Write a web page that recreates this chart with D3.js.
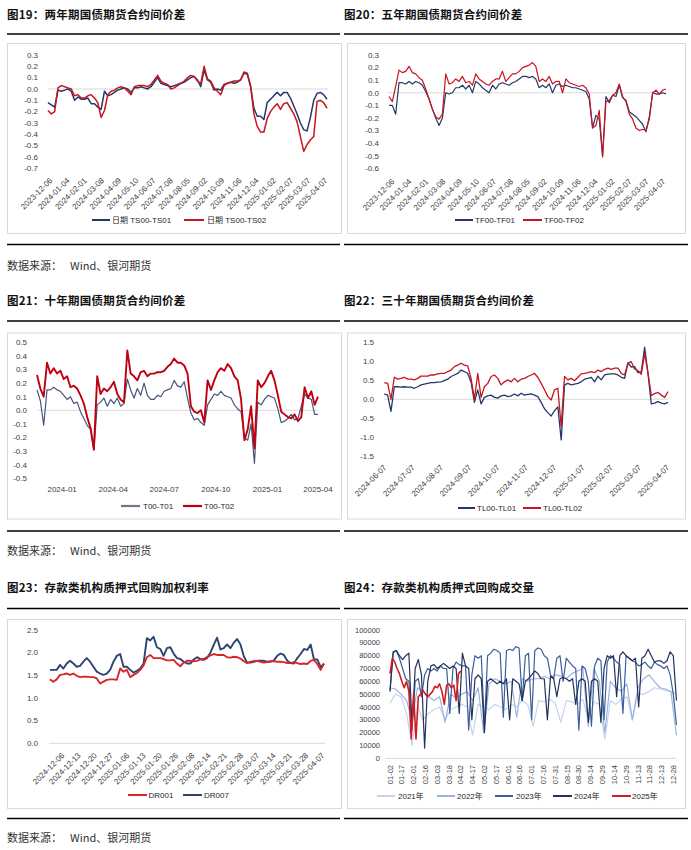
<!DOCTYPE html>
<html><head><meta charset="utf-8">
<script src="https://cdn.jsdelivr.net/npm/d3@7"></script>
<style>body{margin:0;background:#fff}svg{display:block}</style>
</head><body>
<svg id="c" width="691" height="850"></svg>
<script>
// ---------------- DATA ----------------
const dateLabels1920 = ["2023-12-06","2024-01-04","2024-02-01","2024-03-08","2024-04-09","2024-05-10","2024-06-07","2024-07-08","2024-08-05","2024-09-02","2024-10-09","2024-11-06","2024-12-04","2025-01-02","2025-02-07","2025-03-07","2025-04-07"];
const ticks19 = [0.3,0.2,0.1,0,-0.1,-0.2,-0.3,-0.4,-0.5,-0.6,-0.7];
const ts01 = [-0.12,-0.14,-0.16,-0.01,-0.02,-0.01,0.00,-0.02,-0.10,-0.07,
 -0.09,-0.09,-0.08,-0.13,-0.13,-0.16,-0.18,-0.02,-0.06,-0.05,
 -0.03,-0.01,0.00,0.01,0.00,-0.03,0.01,0.01,0.02,0.01,
 0.00,0.02,0.06,0.10,0.05,0.04,0.03,0.02,0.03,0.04,
 0.05,0.06,0.08,0.10,0.11,0.08,0.02,0.17,0.08,0.06,
 -0.01,0.00,-0.01,0.04,0.05,0.06,0.05,0.06,0.08,0.14,
 0.13,0.02,-0.17,-0.24,-0.24,-0.27,-0.12,-0.09,-0.06,-0.03,
 -0.06,-0.03,-0.03,-0.08,-0.15,-0.22,-0.30,-0.36,-0.37,-0.25,
 -0.10,-0.04,-0.03,-0.05,-0.09];
const ts02 = [-0.19,-0.22,-0.20,0.01,0.03,0.02,0.01,0.00,-0.06,-0.05,
 -0.08,-0.08,-0.06,-0.05,-0.08,-0.12,-0.25,-0.19,-0.05,-0.02,
 -0.01,0.01,0.02,0.01,-0.02,-0.05,0.02,0.03,0.03,0.03,
 0.02,0.04,0.08,0.12,0.07,0.05,0.04,0.00,0.01,0.03,
 0.05,0.07,0.10,0.12,0.11,0.07,0.05,0.20,0.09,0.07,
 0.01,-0.02,-0.05,0.03,0.05,0.06,0.07,0.07,0.08,0.15,
 0.14,0.03,-0.22,-0.33,-0.38,-0.38,-0.26,-0.20,-0.16,-0.13,
 -0.18,-0.13,-0.12,-0.17,-0.22,-0.29,-0.42,-0.55,-0.49,-0.45,
 -0.42,-0.11,-0.10,-0.12,-0.17];

const ticks20 = [0.3,0.2,0.1,0,-0.1,-0.2,-0.3,-0.4,-0.5,-0.6];
const tf01 = [-0.10,-0.10,-0.17,0.08,0.08,0.07,0.09,0.07,0.09,0.08,
 0.06,0.01,-0.05,-0.13,-0.20,-0.26,-0.20,0.00,-0.01,0.00,
 0.04,0.04,0.06,0.03,0.06,0.00,0.09,0.07,0.04,0.02,
 0.00,0.06,0.03,0.07,0.08,0.07,0.06,0.08,0.09,0.11,
 0.13,0.13,0.12,0.13,0.11,0.04,0.06,0.04,0.07,0.00,
 0.06,0.07,0.05,0.06,0.05,0.04,0.04,0.03,0.02,0.01,
 -0.05,-0.28,-0.18,-0.21,-0.50,-0.03,-0.08,-0.02,-0.03,0.06,
 -0.04,-0.06,-0.15,-0.17,-0.19,-0.22,-0.25,-0.31,-0.19,0.00,
 -0.01,-0.01,0.00,-0.01];
const tf02 = [-0.03,-0.07,0.05,0.18,0.16,0.17,0.21,0.16,0.15,0.12,
 0.10,0.03,-0.05,-0.13,-0.19,-0.21,-0.17,0.15,0.07,0.08,
 0.11,0.09,0.13,0.08,0.09,0.06,0.15,0.11,0.09,0.07,
 0.06,0.09,0.11,0.11,0.17,0.09,0.12,0.15,0.15,0.17,
 0.20,0.21,0.22,0.24,0.21,0.09,0.11,0.09,0.13,0.07,
 0.09,0.09,0.00,0.11,0.08,0.07,0.06,0.05,0.06,0.04,
 -0.01,-0.28,-0.26,-0.14,-0.51,-0.07,-0.06,-0.02,0.00,0.07,
 -0.03,-0.07,-0.17,-0.21,-0.28,-0.30,-0.29,-0.30,-0.21,0.00,
 0.02,-0.01,0.02,0.03];

const ticks21 = [0.5,0.4,0.3,0.2,0.1,0,-0.1,-0.2,-0.3,-0.4,-0.5];
const months21 = ["2024-01-01","2024-04-01","2024-07-01","2024-10-01","2025-01-01","2025-04-01"];
const span21 = ["2023-11-19","2025-04-01"];
const t01 = [0.15,0.07,-0.11,0.15,0.15,0.17,0.15,0.14,0.11,0.08,
 0.10,0.05,0.06,-0.01,-0.06,-0.11,-0.14,-0.29,0.04,0.06,
 0.09,0.03,0.08,0.05,0.09,0.03,0.05,0.23,0.15,0.09,
 0.16,0.11,0.20,0.11,0.08,0.08,0.11,0.10,0.14,0.15,
 0.16,0.22,0.18,0.17,0.21,0.09,-0.02,-0.07,-0.06,-0.09,
 -0.11,0.04,0.08,0.12,0.11,0.14,0.11,0.10,0.09,0.04,
 0.01,-0.01,-0.20,-0.22,-0.10,-0.39,0.06,0.04,0.08,0.11,
 0.10,0.09,0.01,-0.09,-0.08,-0.06,-0.03,-0.07,-0.06,0.03,
 0.12,0.09,0.08,-0.03,-0.03];
const t02 = [0.26,0.16,0.10,0.35,0.27,0.31,0.27,0.29,0.23,0.25,
 0.17,0.18,0.16,0.11,0.05,-0.05,-0.13,-0.29,0.25,0.12,
 0.16,0.14,0.17,0.21,0.12,0.08,0.06,0.44,0.27,0.25,
 0.22,0.28,0.29,0.25,0.27,0.27,0.28,0.28,0.29,0.32,
 0.34,0.38,0.35,0.35,0.33,0.27,0.03,-0.01,-0.02,0.00,
 -0.09,0.22,0.15,0.22,0.28,0.31,0.29,0.34,0.31,0.25,
 0.22,0.08,-0.22,-0.14,0.03,-0.28,0.22,0.17,0.20,0.25,
 0.29,0.22,0.11,-0.01,-0.03,-0.05,-0.06,-0.03,-0.08,-0.05,
 0.17,0.09,0.14,0.04,0.10];

const dateLabels22 = ["2024-06-07","2024-07-07","2024-08-07","2024-09-07","2024-10-07","2024-11-07","2024-12-07","2025-01-07","2025-02-07","2025-03-07","2025-04-07"];
const ticks22 = [1.5,1.0,0.5,0,-0.5,-1.0,-1.5];
const tl01 = [0.14,0.11,-0.32,0.33,0.33,0.32,0.33,0.32,0.32,0.29,
 0.33,0.38,0.40,0.42,0.44,0.44,0.45,0.46,0.49,0.53,
 0.60,0.64,0.68,0.77,0.73,0.68,0.45,-0.08,0.25,-0.12,
 0.05,0.09,0.11,0.05,0.03,0.09,0.11,0.07,0.09,0.14,
 0.09,0.16,0.11,0.13,0.14,0.11,0.07,-0.08,-0.25,-0.35,
 -0.44,-0.30,-0.20,-1.07,0.38,0.42,0.38,0.40,0.42,0.46,
 0.53,0.55,0.58,0.46,0.61,0.51,0.64,0.66,0.67,0.67,
 0.64,0.58,0.55,0.96,0.85,0.86,0.70,0.73,1.37,0.68,
 -0.12,-0.10,-0.06,-0.10,-0.12,-0.08];
const tl02 = [0.44,0.42,0.00,0.58,0.53,0.55,0.58,0.53,0.53,0.51,
 0.55,0.61,0.61,0.61,0.64,0.64,0.67,0.68,0.68,0.73,
 0.77,0.86,0.90,0.95,0.90,0.88,0.55,0.00,0.68,0.05,
 0.33,0.42,0.60,0.64,0.55,0.38,0.46,0.51,0.46,0.55,
 0.46,0.53,0.55,0.60,0.64,0.68,0.58,0.42,0.25,0.07,
 -0.02,0.25,0.29,-0.72,0.60,0.51,0.55,0.49,0.58,0.67,
 0.68,0.70,0.73,0.70,0.77,0.73,0.79,0.82,0.79,0.82,
 0.82,0.68,0.64,0.95,0.99,0.80,0.75,0.66,1.20,0.70,
 0.10,0.15,0.18,0.11,0.05,0.20];

const dateLabels23 = ["2024-12-06","2024-12-13","2024-12-20","2024-12-27","2025-01-06","2025-01-13","2025-01-20","2025-01-26","2025-02-08","2025-02-14","2025-02-21","2025-02-28","2025-03-07","2025-03-14","2025-03-21","2025-03-28","2025-04-07"];
const ticks23 = [2.5,2.0,1.5,1.0,0.5,0];
const dr007 = [1.62,1.62,1.62,1.73,1.65,1.76,1.82,1.76,1.69,1.71,
 1.80,1.88,1.80,1.69,1.58,1.54,1.51,1.54,1.62,1.80,
 1.93,1.97,1.69,1.69,1.62,1.56,1.60,1.65,1.76,2.32,
 2.27,2.35,2.12,2.08,1.93,2.10,2.12,1.98,1.88,1.86,
 1.80,1.76,1.76,1.85,1.90,1.86,1.84,1.88,2.00,2.17,
 2.33,2.07,2.10,2.18,2.10,2.22,2.30,2.18,1.92,1.78,
 1.78,1.80,1.82,1.82,1.82,1.80,1.80,1.83,1.93,1.98,
 1.95,1.82,1.77,1.76,1.88,1.97,2.08,2.06,2.18,1.85,
 1.85,1.68,1.76];
const dr001 = [1.41,1.36,1.41,1.51,1.52,1.54,1.51,1.54,1.49,1.46,
 1.47,1.47,1.46,1.46,1.43,1.32,1.36,1.40,1.41,1.41,
 1.40,1.65,1.58,1.62,1.46,1.51,1.55,1.62,1.72,1.90,
 1.95,1.88,1.88,1.88,1.86,1.83,1.83,1.84,1.76,1.70,
 1.78,1.82,1.82,1.81,1.82,1.85,1.86,1.90,1.94,1.97,
 1.95,1.95,1.95,1.90,1.89,1.91,1.90,1.87,1.81,1.77,
 1.80,1.81,1.82,1.80,1.78,1.79,1.81,1.81,1.80,1.80,
 1.79,1.77,1.77,1.79,1.77,1.75,1.76,1.75,1.82,1.84,
 1.75,1.62,1.76];

const dayLabels24 = ["01-02","01-17","02-01","02-16","03-03","03-18","04-02","04-17","05-02","05-17","06-01","06-16","07-01","07-16","07-31","08-15","08-30","09-14","09-29","10-14","10-29","11-13","11-28","12-13","12-28"];
const ticks24 = [100000,90000,80000,70000,60000,50000,40000,30000,20000,10000,0];
const weekStepDays = 7, fourDayStep = 4, step2025Days = 3, labelStepDays = 15;
const vol2021 = [43000,50000,48000,35000,10000,40000,30000,35000,38000,40000,
 30000,38000,40000,42000,40000,18000,42000,40000,38000,42000,
 40000,38000,42000,40000,45000,42000,25000,45000,44000,46000,
 43000,28000,45000,44000,42000,46000,30000,44000,42000,15000,
 45000,42000,46000,48000,30000,50000,50000,52000,55000,54000,
 53000,52000,50000];
const vol2022 = [55000,54000,50000,45000,30000,55000,52000,48000,45000,48000,
 28000,50000,47000,50000,52000,45000,55000,20000,58000,62000,
 60000,58000,60000,32000,62000,60000,62000,62000,64000,62000,
 65000,64000,62000,66000,68000,70000,25000,70000,60000,20000,
 60000,55000,52000,58000,30000,55000,62000,65000,60000,55000,
 54000,52000,18000];
const vol2023 = [53000,82000,84000,78000,70000,62000,60000,22000,60000,62000,
 48000,65000,70000,68000,70000,68000,72000,70000,70000,35000,
 70000,75000,73000,72000,72000,22000,65000,80000,78000,80000,
 25000,80000,82000,85000,84000,82000,32000,84000,85000,84000,
 87000,86000,45000,80000,82000,30000,84000,86000,85000,80000,
 78000,65000,62000,78000,80000,60000,78000,75000,72000,70000,
 22000,72000,70000,60000,25000,72000,78000,76000,30000,75000,
 80000,78000,75000,73000,35000,80000,78000,76000,75000,72000,
 73000,75000,72000,70000,75000,73000,72000,70000,72000,65000,
 50000,26000];
const vol2024 = [52000,83000,84000,80000,77000,80000,82000,25000,70000,77000,
 65000,8000,60000,72000,73000,70000,72000,74000,72000,70000,
 72000,70000,35000,82000,72000,70000,30000,62000,65000,62000,
 20000,60000,62000,60000,58000,60000,58000,62000,30000,62000,
 60000,58000,45000,60000,62000,65000,68000,66000,62000,62000,
 30000,64000,62000,48000,62000,63000,62000,60000,62000,42000,
 60000,62000,60000,28000,60000,62000,60000,28000,70000,80000,
 78000,80000,48000,80000,83000,80000,78000,76000,78000,40000,
 78000,80000,85000,80000,75000,76000,76000,74000,76000,83000,
 80000,45000];
const vol2025 = [66000,78000,75000,70000,66000,60000,55000,60000,52000,15000,
 50000,15000,48000,50000,53000,50000,48000,50000,52000,56000,
 55000,58000,52000,42000,57000,58000,55000,57000,45000,66000,
 68000];

// ---------------- DRAWING ----------------
const svg = d3.select("#c");
const CJK = "'Noto Sans CJK SC','Noto Sans',sans-serif";
const LAT = "'Liberation Sans',Arial,'Noto Sans CJK SC',sans-serif";
const TXT = "#404040";
const NAVY = "#24396a", RED = "#c8141e";

const rows = [
  {title:15, r1:34, b0:43.5, b1:233.5, r2:244.5, src:266},
  {title:301, r1:321, b0:333, b1:519, r2:531, src:551},
  {title:588, r1:608.5, b0:619.5, b1:808.5, r2:818.5, src:838}
];
const cols = [
  {t:7, r0:7, r1:340, bx0:7.5, bx1:341.5},
  {t:344, r0:344, r1:688, bx0:347.5, bx1:685.5}
];

function chrome(c, r, title) {
  const C = cols[c], R = rows[r];
  svg.append("text").attr("x", C.t).attr("y", R.title).attr("dy","0.35em")
    .attr("font-family", CJK).attr("font-weight","bold").attr("font-size", 11.5)
    .attr("letter-spacing", 0.25).attr("fill","#111").text(title);
  svg.append("line").attr("x1",C.r0).attr("x2",C.r1).attr("y1",R.r1).attr("y2",R.r1)
    .attr("stroke","#000").attr("stroke-width",1.5);
  svg.append("line").attr("x1",C.r0).attr("x2",C.r1).attr("y1",R.r2).attr("y2",R.r2)
    .attr("stroke","#000").attr("stroke-width",1.5);
  svg.append("rect").attr("x",C.bx0).attr("y",R.b0).attr("width",C.bx1-C.bx0).attr("height",R.b1-R.b0)
    .attr("fill","none").attr("stroke","#d9d9d9").attr("stroke-width",1);
  if (c === 0) {
    svg.append("text").attr("x",7).attr("y",R.src).attr("dy","0.35em").attr("font-family",CJK)
      .attr("font-size",11).attr("fill","#333").text("数据来源：");
    svg.append("text").attr("x",70).attr("y",R.src).attr("dy","0.35em").attr("font-family",CJK)
      .attr("font-size",11).attr("fill","#333").text("Wind、银河期货");
  }
}

function yAxis(ticks, y, xr, fmt, fs) {
  svg.append("g").selectAll("text").data(ticks).join("text")
    .attr("x", xr).attr("y", d => y(d)).attr("dy","0.35em").attr("text-anchor","end")
    .attr("font-family", LAT).attr("font-size", fs || 8).attr("fill", TXT).text(fmt);
}
function refLine(y, v, x0, x1) {
  svg.append("line").attr("x1",x0).attr("x2",x1).attr("y1",y(v)).attr("y2",y(v))
    .attr("stroke","#d9d9d9").attr("stroke-width",1);
}
function series(vals, x, y, color, w) {
  svg.append("path").datum(vals)
    .attr("d", d3.line().x((d,i)=>x(i)).y(d=>y(d)))
    .attr("fill","none").attr("stroke",color).attr("stroke-width",w)
    .attr("stroke-linejoin","round");
}
function rotLabels(labels, range, ly, angle, fs) {
  const p = d3.scalePoint().domain(labels).range(range);
  svg.append("g").selectAll("text").data(labels).join("text")
    .attr("transform", d => `translate(${p(d)},${ly}) rotate(${angle})`)
    .attr("text-anchor","end").attr("dy","0.35em")
    .attr("font-family", LAT).attr("font-size", fs || 8).attr("fill", TXT).text(d => d);
}
function legend(items, ly) {
  items.forEach(it => {
    svg.append("line").attr("x1",it.x1).attr("x2",it.x2).attr("y1",ly).attr("y2",ly)
      .attr("stroke",it.color).attr("stroke-width",it.w || 2);
    svg.append("text").attr("x",it.tx).attr("y",ly).attr("dy","0.35em")
      .attr("font-family",LAT).attr("font-size",8).attr("fill","#262626").text(it.label);
  });
}
const f1 = d => d.toFixed(1);

// ---- 图19
chrome(0,0,"图19：两年期国债期货合约间价差");
{
  const y = d3.scaleLinear().domain([-0.7,0.3]).range([168.3,55]);
  const x = d3.scaleLinear().domain([0, ts01.length-1]).range([48,327]);
  yAxis(ticks19, y, 38, f1);
  refLine(y, 0, 48, 328);
  series(ts01, x, y, NAVY, 1.5);
  series(ts02, x, y, RED, 1.5);
  rotLabels(dateLabels1920, [51,326], 179, -45);
  legend([{x1:92,x2:110,tx:112,label:"日期 TS00-TS01",color:NAVY},
          {x1:184,x2:204,tx:207,label:"日期 TS00-TS02",color:RED}], 220);
}
// ---- 图20
chrome(1,0,"图20：五年期国债期货合约间价差");
{
  const y = d3.scaleLinear().domain([-0.6,0.3]).range([168.3,55]);
  const x = d3.scaleLinear().domain([0, tf01.length-1]).range([389,666]);
  yAxis(ticks20, y, 379, f1);
  refLine(y, 0, 388, 667);
  series(tf01, x, y, NAVY, 1.2);
  series(tf02, x, y, RED, 1.2);
  rotLabels(dateLabels1920, [393,664], 180, -45);
  legend([{x1:455,x2:473,tx:475,label:"TF00-TF01",color:NAVY},
          {x1:523,x2:542,tx:544,label:"TF00-TF02",color:RED}], 220);
}
// ---- 图21
chrome(0,1,"图21：十年期国债期货合约间价差");
{
  const y = d3.scaleLinear().domain([-0.5,0.5]).range([478.3,342.3]);
  const x = d3.scaleLinear().domain([0, t01.length-1]).range([37,318]);
  const pd = d3.timeParse("%Y-%m-%d");
  const xt = d3.scaleTime().domain(span21.map(pd)).range([38,318]);
  yAxis(ticks21, y, 27, f1);
  refLine(y, 0, 37, 318);
  series(t01, x, y, "#46557a", 1.2);
  series(t02, x, y, "#c00010", 1.9);
  svg.append("g").selectAll("text").data(months21.map(pd)).join("text")
    .attr("x", d => xt(d)).attr("y", 489).attr("dy","0.35em").attr("text-anchor","middle")
    .attr("font-family",LAT).attr("font-size",8).attr("fill",TXT).text(d3.timeFormat("%Y-%m"));
  legend([{x1:121,x2:140,tx:143,label:"T00-T01",color:"#6b7894",w:2.2},
          {x1:183,x2:202,tx:204,label:"T00-T02",color:"#c00010",w:2.2}], 506);
}
// ---- 图22
chrome(1,1,"图22：三十年期国债期货合约间价差");
{
  const y = d3.scaleLinear().domain([-1.5,1.5]).range([456.3,342.3]);
  const x = d3.scaleLinear().domain([0, tl01.length-1]).range([384.3,668]);
  yAxis(ticks22, y, 374, f1);
  refLine(y, 0, 384, 668);
  series(tl01, x, y, NAVY, 1.3);
  series(tl02, x, y, RED, 1.3);
  rotLabels(dateLabels22, [385,668], 466, -45);
  legend([{x1:458,x2:475,tx:477,label:"TL00-TL01",color:NAVY},
          {x1:523,x2:541,tx:543,label:"TL00-TL02",color:RED}], 508);
}
// ---- 图23
chrome(0,2,"图23：存款类机构质押式回购加权利率");
{
  const y = d3.scaleLinear().domain([0,2.5]).range([743.3,630]);
  const x = d3.scaleLinear().domain([0, dr001.length-1]).range([50,324]);
  yAxis(ticks23, y, 38, f1);
  refLine(y, 0, 49, 325);
  series(dr007, x, y, "#2d4472", 1.9);
  series(dr001, x, y, "#d7262b", 1.9);
  rotLabels(dateLabels23, [63,323], 754, -45);
  legend([{x1:128,x2:147,tx:148.5,label:"DR001",color:"#d7262b"},
          {x1:183,x2:202,tx:204,label:"DR007",color:"#2d4472"}], 795);
}
// ---- 图24
chrome(1,2,"图24：存款类机构质押式回购成交量");
{
  const y = d3.scaleLinear().domain([0,100000]).range([758.3,630]);
  const xd = d3.scaleLinear().domain([0, 360]).range([390,673.3]);
  yAxis(ticks24, y, 380, d => String(d), 7.5);
  refLine(y, 0, 385, 676);
  const vols = [
    {v:vol2021, c:"#c5d4ee", s:weekStepDays, n:"2021年", w:1.2},
    {v:vol2022, c:"#9bb3de", s:weekStepDays, n:"2022年", w:1.2},
    {v:vol2023, c:"#3d5d9b", s:fourDayStep, n:"2023年", w:1.2},
    {v:vol2024, c:"#22325a", s:fourDayStep, n:"2024年", w:1.2},
    {v:vol2025, c:"#d01c22", s:step2025Days, n:"2025年", w:1.6}
  ];
  vols.forEach(o => {
    svg.append("path").datum(o.v)
      .attr("d", d3.line().x((d,i)=>xd(i*o.s)).y(d=>y(d)))
      .attr("fill","none").attr("stroke",o.c).attr("stroke-width",o.w).attr("stroke-linejoin","round");
  });
  svg.append("g").selectAll("text").data(dayLabels24).join("text")
    .attr("transform",(d,i)=>`translate(${xd(i*labelStepDays)},765) rotate(-90)`)
    .attr("text-anchor","end").attr("dy","0.35em")
    .attr("font-family",LAT).attr("font-size",7.5).attr("fill",TXT).text(d=>d);
  const lx = [[377,395,398],[437,455,457],[495,513,516],[553,572,574],[612,631,632]];
  legend(vols.map((o,i)=>({x1:lx[i][0],x2:lx[i][1],tx:lx[i][2],label:o.n,color:o.c})), 796);
}
</script>
</body></html>
